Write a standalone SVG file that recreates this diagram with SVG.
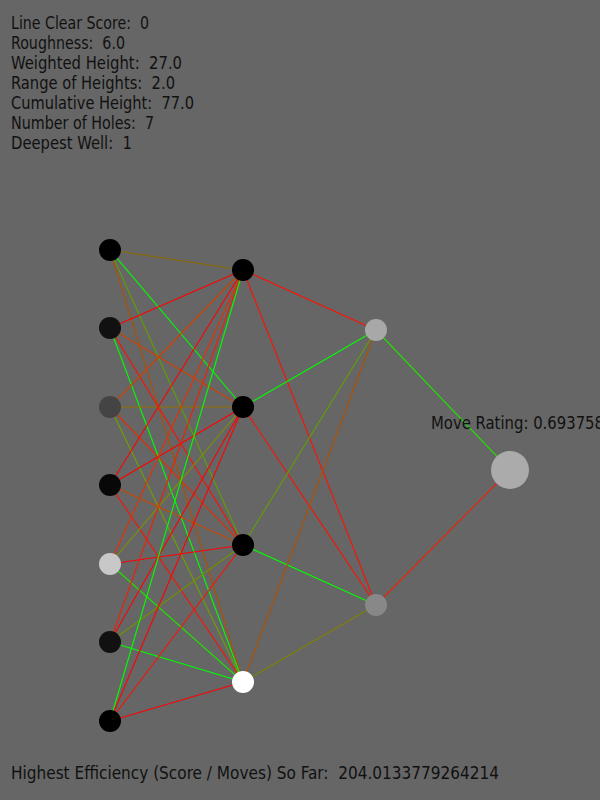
<svg xmlns="http://www.w3.org/2000/svg" width="600" height="800" viewBox="0 0 600 800">
<style>
  .t { font-family: "Liberation Sans Narrow", "DejaVu Sans Condensed", "Liberation Sans", sans-serif; font-size: 18px; fill: #111; white-space: pre; }
  #connectors line { stroke-width: 1.1; fill: none; }
</style>
<rect x="0" y="0" width="600" height="800" fill="#666666"/>

<g id="stats">
  <text class="t" x="11" y="29" textLength="138" lengthAdjust="spacingAndGlyphs" xml:space="preserve">Line Clear Score:  0</text>
  <text class="t" x="11" y="49" textLength="114" lengthAdjust="spacingAndGlyphs" xml:space="preserve">Roughness:  6.0</text>
  <text class="t" x="11" y="69" textLength="171" lengthAdjust="spacingAndGlyphs" xml:space="preserve">Weighted Height:  27.0</text>
  <text class="t" x="11" y="89" textLength="164" lengthAdjust="spacingAndGlyphs" xml:space="preserve">Range of Heights:  2.0</text>
  <text class="t" x="11" y="109" textLength="183" lengthAdjust="spacingAndGlyphs" xml:space="preserve">Cumulative Height:  77.0</text>
  <text class="t" x="11" y="129" textLength="143" lengthAdjust="spacingAndGlyphs" xml:space="preserve">Number of Holes:  7</text>
  <text class="t" x="11" y="149" textLength="121" lengthAdjust="spacingAndGlyphs" xml:space="preserve">Deepest Well:  1</text>
</g>

<g id="connectors">
  <line x1="110" y1="250" x2="243" y2="270" stroke="#8a6a00"/>
  <line x1="110" y1="250" x2="243" y2="407" stroke="#00ff00"/>
  <line x1="110" y1="250" x2="243" y2="545" stroke="#60a000"/>
  <line x1="110" y1="250" x2="243" y2="682" stroke="#b05000"/>

  <line x1="110" y1="328" x2="243" y2="270" stroke="#ff0000"/>
  <line x1="110" y1="328" x2="243" y2="407" stroke="#d04000"/>
  <line x1="110" y1="328" x2="243" y2="545" stroke="#ff1000"/>
  <line x1="110" y1="328" x2="243" y2="682" stroke="#00ff00"/>

  <line x1="110" y1="407" x2="243" y2="270" stroke="#d04000"/>
  <line x1="110" y1="407" x2="243" y2="407" stroke="#907000"/>
  <line x1="110" y1="407" x2="243" y2="545" stroke="#e03000"/>
  <line x1="110" y1="407" x2="243" y2="682" stroke="#70a000"/>

  <line x1="110" y1="485" x2="243" y2="270" stroke="#ff0000"/>
  <line x1="110" y1="485" x2="243" y2="407" stroke="#ff0000"/>
  <line x1="110" y1="485" x2="243" y2="545" stroke="#c84800"/>
  <line x1="110" y1="485" x2="243" y2="682" stroke="#ff1000"/>

  <line x1="110" y1="564" x2="243" y2="270" stroke="#e83000"/>
  <line x1="110" y1="564" x2="243" y2="407" stroke="#809000"/>
  <line x1="110" y1="564" x2="243" y2="545" stroke="#ff0000"/>
  <line x1="110" y1="564" x2="243" y2="682" stroke="#20e000"/>

  <line x1="110" y1="642" x2="243" y2="270" stroke="#f02000"/>
  <line x1="110" y1="642" x2="243" y2="407" stroke="#ff0000"/>
  <line x1="110" y1="642" x2="243" y2="545" stroke="#709000"/>
  <line x1="110" y1="642" x2="243" y2="682" stroke="#00ff00"/>

  <line x1="110" y1="721" x2="243" y2="270" stroke="#00ff00"/>
  <line x1="110" y1="721" x2="243" y2="407" stroke="#ff0000"/>
  <line x1="110" y1="721" x2="243" y2="545" stroke="#ff1000"/>
  <line x1="110" y1="721" x2="243" y2="682" stroke="#ff0000"/>

  <line x1="243" y1="270" x2="376" y2="330" stroke="#ff1000"/>
  <line x1="243" y1="270" x2="376" y2="605" stroke="#ff1000"/>
  <line x1="243" y1="407" x2="376" y2="330" stroke="#00ff00"/>
  <line x1="243" y1="407" x2="376" y2="605" stroke="#ff1000"/>
  <line x1="243" y1="545" x2="376" y2="330" stroke="#60a000"/>
  <line x1="243" y1="545" x2="376" y2="605" stroke="#00ff00"/>
  <line x1="243" y1="682" x2="376" y2="330" stroke="#b05000"/>
  <line x1="243" y1="682" x2="376" y2="605" stroke="#808000"/>

  <line x1="376" y1="330" x2="510" y2="470" stroke="#20e000"/>
  <line x1="376" y1="605" x2="510" y2="470" stroke="#f02000"/>
</g>

<g id="in0"><circle cx="110" cy="250" r="11" fill="#000000"/></g>
<g id="in1"><circle cx="110" cy="328" r="11" fill="#111111"/></g>
<g id="in2"><circle cx="110" cy="407" r="11" fill="#444444"/></g>
<g id="in3"><circle cx="110" cy="485" r="11" fill="#080808"/></g>
<g id="in4"><circle cx="110" cy="564" r="11" fill="#c8c8c8"/></g>
<g id="in5"><circle cx="110" cy="642" r="11" fill="#111111"/></g>
<g id="in6"><circle cx="110" cy="721" r="11" fill="#000000"/></g>

<g id="h0"><circle cx="243" cy="270" r="11" fill="#000000"/></g>
<g id="h1"><circle cx="243" cy="407" r="11" fill="#000000"/></g>
<g id="h2"><circle cx="243" cy="545" r="11" fill="#000000"/></g>
<g id="h3"><circle cx="243" cy="682" r="11" fill="#ffffff"/></g>

<g id="g0"><circle cx="376" cy="330" r="11" fill="#a8a8a8"/></g>
<g id="g1"><circle cx="376" cy="605" r="11" fill="#888888"/></g>

<g id="out">
  <circle cx="510" cy="470" r="19" fill="#ababab"/>
  <text class="t" x="431" y="429" textLength="173" lengthAdjust="spacingAndGlyphs">Move Rating: 0.693758</text>
</g>

<g id="footer">
  <text class="t" x="11" y="779" textLength="488" lengthAdjust="spacingAndGlyphs" xml:space="preserve">Highest Efficiency (Score / Moves) So Far:  204.0133779264214</text>
</g>
</svg>
